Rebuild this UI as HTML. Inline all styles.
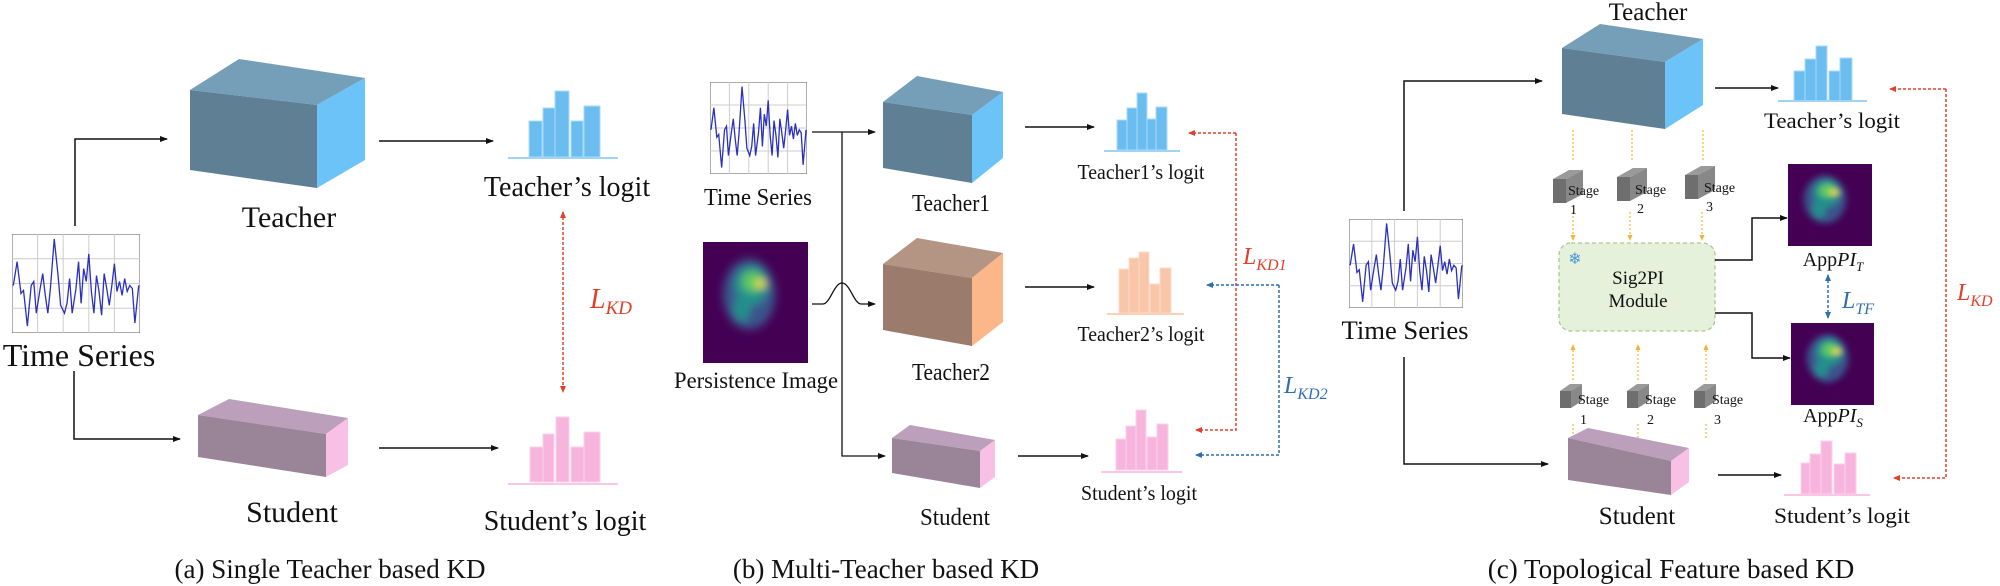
<!DOCTYPE html>
<html><head><meta charset="utf-8"><style>
html,body{margin:0;padding:0;background:#fff;}
svg{display:block;}
svg text{font-family:"Liberation Serif","Times New Roman",Times,"DejaVu Serif",serif;fill:#111;}
</style></head><body>
<svg width="2000" height="586" viewBox="0 0 2000 586" xmlns="http://www.w3.org/2000/svg" font-family="'Liberation Serif', 'Times New Roman', Times, serif">
<defs>
<marker id="ah" markerWidth="8" markerHeight="6" refX="7" refY="3" orient="auto" markerUnits="userSpaceOnUse"><path d="M0,0 L8,3 L0,6 z" fill="#111"/></marker>
<marker id="ar" markerWidth="7" markerHeight="6" refX="6" refY="3" orient="auto-start-reverse" markerUnits="userSpaceOnUse"><path d="M0,0 L7,3 L0,6 z" fill="#e0402a"/></marker>
<marker id="ab" markerWidth="7" markerHeight="6" refX="6" refY="3" orient="auto-start-reverse" markerUnits="userSpaceOnUse"><path d="M0,0 L7,3 L0,6 z" fill="#2f6fb0"/></marker>
<marker id="ao" markerWidth="6" markerHeight="5" refX="5" refY="2.5" orient="auto" markerUnits="userSpaceOnUse"><path d="M0,0 L6,2.5 L0,5 z" fill="#f5b335"/></marker>
<filter id="bl" x="-50%" y="-50%" width="200%" height="200%"><feGaussianBlur stdDeviation="4"/></filter>
<symbol id="ts" viewBox="0 0 100 100" preserveAspectRatio="none">
<rect x="0" y="0" width="100" height="100" fill="#fff" stroke="#777" stroke-width="1.2" vector-effect="non-scaling-stroke"/>
<g stroke="#ccc" stroke-width="1">
<line x1="20" y1="0" x2="20" y2="100" vector-effect="non-scaling-stroke"/><line x1="40" y1="0" x2="40" y2="100" vector-effect="non-scaling-stroke"/><line x1="60" y1="0" x2="60" y2="100" vector-effect="non-scaling-stroke"/><line x1="80" y1="0" x2="80" y2="100" vector-effect="non-scaling-stroke"/>
<line x1="0" y1="25" x2="100" y2="25" vector-effect="non-scaling-stroke"/><line x1="0" y1="50" x2="100" y2="50" vector-effect="non-scaling-stroke"/><line x1="0" y1="75" x2="100" y2="75" vector-effect="non-scaling-stroke"/>
</g>
<polyline fill="none" stroke="#2a2fc0" stroke-width="1.3" vector-effect="non-scaling-stroke" points="1,52 4,28 7,60 9,57 12,93 15,52 17,48 19,80 22,55 24,40 26,62 28,80 30,55 33,5 36,42 38,72 41,80 43,70 45,45 47,80 50,55 52,28 54,70 56,35 58,48 60,20 62,58 64,80 66,42 68,58 70,82 72,40 74,55 76,72 78,52 80,30 82,58 84,48 86,62 88,45 90,58 92,52 94,55 96,90 99,52"/>
</symbol>
<symbol id="pi" viewBox="0 0 100 116" preserveAspectRatio="none">
<rect width="100" height="116" fill="#440154"/>
<g filter="url(#bl)">
<ellipse cx="44" cy="50" rx="25" ry="34" fill="#3b528b"/>
<ellipse cx="46" cy="42" rx="16" ry="19" fill="#21918c"/>
<ellipse cx="37" cy="64" rx="8" ry="12" fill="#21918c"/>
<ellipse cx="47" cy="38" rx="10" ry="10" fill="#5ec962"/>
<ellipse cx="55" cy="40" rx="5" ry="4" fill="#fde725"/>
</g>
</symbol>
</defs>

<use href="#ts" x="12" y="234" width="128" height="99"/>
<text x="79" y="366" font-size="32" text-anchor="middle">Time Series</text>
<polyline points="75,226 75,139 167,139" fill="none" stroke="#111" stroke-width="1.5" marker-end="url(#ah)"/>
<polyline points="74,371 74,439 180,439" fill="none" stroke="#111" stroke-width="1.5" marker-end="url(#ah)"/>
<polygon points="190,90 239,59 365,78 317,105" fill="#759fb8"/>
<polygon points="190,90 317,105 317,188 190,170" fill="#5f7f94"/>
<polygon points="317,105 365,78 365,160 317,188" fill="#6cc3f7"/>
<text x="289" y="227" font-size="30" text-anchor="middle">Teacher</text>
<polygon points="198,415 229,399 348,418 326,434" fill="#bb9fbb"/>
<polygon points="198,415 326,434 326,477 198,457" fill="#9a8498"/>
<polygon points="326,434 348,418 348,465 326,477" fill="#f9c0e6"/>
<text x="292" y="522" font-size="30" text-anchor="middle">Student</text>
<line x1="379" y1="141" x2="493" y2="141" stroke="#111" stroke-width="1.5" marker-end="url(#ah)"/>
<line x1="379" y1="448" x2="498" y2="448" stroke="#111" stroke-width="1.5" marker-end="url(#ah)"/>
<g fill="#6bbdf0" stroke="#a8dcfa" stroke-width="1">
<rect x="529" y="121" width="13" height="36"/><rect x="543" y="108" width="12" height="49"/><rect x="555" y="91" width="14" height="66"/><rect x="571" y="121" width="12" height="36"/><rect x="584" y="106" width="16" height="51"/>
</g>
<line x1="508" y1="158" x2="618" y2="158" stroke="#9fd4f5" stroke-width="2"/>
<text x="567" y="196" font-size="28" text-anchor="middle">Teacher’s logit</text>
<g fill="#f7b4dd" stroke="#fbd3ec" stroke-width="1">
<rect x="530" y="447" width="13" height="35"/><rect x="543" y="434" width="11" height="48"/><rect x="556" y="417" width="13" height="65"/><rect x="571" y="447" width="13" height="35"/><rect x="584" y="432" width="16" height="50"/>
</g>
<line x1="508" y1="484" x2="618" y2="484" stroke="#fbc6e6" stroke-width="2"/>
<text x="565" y="530" font-size="28" text-anchor="middle">Student’s logit</text>
<line x1="563" y1="212" x2="563" y2="392" stroke="#e0402a" stroke-width="1.5" stroke-dasharray="3,2" marker-start="url(#ar)" marker-end="url(#ar)"/>
<text x="590" y="308" font-size="28" font-style="italic" style="fill:#e0402a">L<tspan font-size="19" dy="6">KD</tspan></text>
<text x="330" y="578" font-size="27" text-anchor="middle">(a) Single Teacher based KD</text>

<use href="#ts" x="710" y="82" width="97" height="92"/>
<text x="758" y="205" font-size="24" text-anchor="middle" textLength="108" lengthAdjust="spacingAndGlyphs">Time Series</text>
<use href="#pi" x="703" y="242" width="105" height="121"/>
<text x="756" y="388" font-size="23" text-anchor="middle" textLength="164" lengthAdjust="spacingAndGlyphs">Persistence Image</text>
<line x1="812" y1="132" x2="875" y2="132" stroke="#111" stroke-width="1.3" marker-end="url(#ah)"/>
<polyline points="842,132 842,456 885,456" fill="none" stroke="#111" stroke-width="1.3" marker-end="url(#ah)"/>
<path d="M812,304 L823,304 C830,304 834,283 842,283 C850,283 854,304 861,304 L875,304" fill="none" stroke="#111" stroke-width="1.3" marker-end="url(#ah)"/>
<polygon points="883,102 917,76 1003,92 972,115" fill="#759fb8"/>
<polygon points="883,102 972,115 972,183 883,168" fill="#5f7f94"/>
<polygon points="972,115 1003,92 1003,158 972,183" fill="#6cc3f7"/>
<text x="951" y="211" font-size="24" text-anchor="middle" textLength="78" lengthAdjust="spacingAndGlyphs">Teacher1</text>
<polygon points="883,264 917,238 1003,253 972,278" fill="#b49583"/>
<polygon points="883,264 972,278 972,346 883,330" fill="#9a7b6c"/>
<polygon points="972,278 1003,253 1003,322 972,346" fill="#fbb78a"/>
<text x="951" y="380" font-size="24" text-anchor="middle" textLength="78" lengthAdjust="spacingAndGlyphs">Teacher2</text>
<polygon points="892,438 910,425 995,440 980,451" fill="#bb9fbb"/>
<polygon points="892,438 980,451 980,488 892,473" fill="#9a8498"/>
<polygon points="980,451 995,440 995,477 980,488" fill="#f9c0e6"/>
<text x="955" y="525" font-size="24" text-anchor="middle" textLength="70" lengthAdjust="spacingAndGlyphs">Student</text>
<line x1="1025" y1="127" x2="1094" y2="127" stroke="#111" stroke-width="1.5" marker-end="url(#ah)"/>
<line x1="1025" y1="287" x2="1094" y2="287" stroke="#111" stroke-width="1.5" marker-end="url(#ah)"/>
<line x1="1018" y1="456" x2="1088" y2="456" stroke="#111" stroke-width="1.5" marker-end="url(#ah)"/>
<g fill="#6bbdf0" stroke="#a8dcfa" stroke-width="1">
<rect x="1117" y="120" width="10" height="30"/><rect x="1127" y="108" width="10" height="42"/><rect x="1137" y="93" width="10" height="57"/><rect x="1147" y="119" width="9" height="31"/><rect x="1156" y="107" width="11" height="43"/>
</g>
<line x1="1104" y1="151" x2="1180" y2="151" stroke="#9fd4f5" stroke-width="2"/>
<text x="1141" y="179" font-size="21" text-anchor="middle" textLength="127" lengthAdjust="spacingAndGlyphs">Teacher1’s logit</text>
<g fill="#f9c6aa" stroke="#fcdcc8" stroke-width="1">
<rect x="1119" y="269" width="10" height="44"/><rect x="1129" y="258" width="10" height="55"/><rect x="1139" y="252" width="10" height="61"/><rect x="1150" y="284" width="10" height="29"/><rect x="1160" y="268" width="11" height="45"/>
</g>
<line x1="1107" y1="314" x2="1184" y2="314" stroke="#fbd0b6" stroke-width="2"/>
<text x="1141" y="341" font-size="21" text-anchor="middle" textLength="127" lengthAdjust="spacingAndGlyphs">Teacher2’s logit</text>
<g fill="#f7b4dd" stroke="#fbd3ec" stroke-width="1">
<rect x="1116" y="439" width="10" height="31"/><rect x="1126" y="426" width="10" height="44"/><rect x="1136" y="410" width="10" height="60"/><rect x="1147" y="437" width="10" height="33"/><rect x="1157" y="424" width="11" height="46"/>
</g>
<line x1="1101" y1="472" x2="1182" y2="472" stroke="#fbc6e6" stroke-width="2"/>
<text x="1139" y="500" font-size="21" text-anchor="middle" textLength="116" lengthAdjust="spacingAndGlyphs">Student’s logit</text>
<polyline points="1236,133 1236,430 1196,430" fill="none" stroke="#e0402a" stroke-width="1.5" stroke-dasharray="3,2" marker-end="url(#ar)"/>
<line x1="1236" y1="133" x2="1189" y2="133" stroke="#e0402a" stroke-width="1.5" stroke-dasharray="3,2" marker-end="url(#ar)"/>
<polyline points="1279,285 1279,455 1196,455" fill="none" stroke="#2f6fb0" stroke-width="1.5" stroke-dasharray="3,2" marker-end="url(#ab)"/>
<line x1="1279" y1="285" x2="1207" y2="285" stroke="#2f6fb0" stroke-width="1.5" stroke-dasharray="3,2" marker-end="url(#ab)"/>
<text x="1243" y="264" font-size="24" font-style="italic" style="fill:#e0402a">L<tspan font-size="16" dy="6">KD1</tspan></text>
<text x="1284" y="393" font-size="24" font-style="italic" style="fill:#2f6fb0">L<tspan font-size="16" dy="6">KD2</tspan></text>
<text x="886" y="578" font-size="27" text-anchor="middle">(b) Multi-Teacher based KD</text>

<use href="#ts" x="1349" y="219" width="114" height="89"/>
<text x="1405" y="339" font-size="26" text-anchor="middle" textLength="127" lengthAdjust="spacingAndGlyphs">Time Series</text>
<polyline points="1404,211 1404,81 1542,81" fill="none" stroke="#111" stroke-width="1.5" marker-end="url(#ah)"/>
<polyline points="1404,357 1404,464 1548,464" fill="none" stroke="#111" stroke-width="1.5" marker-end="url(#ah)"/>
<polygon points="1562,48 1600,24 1703,39 1665,62" fill="#759fb8"/>
<polygon points="1562,48 1665,62 1665,129 1562,114" fill="#5f7f94"/>
<polygon points="1665,62 1703,39 1703,105 1665,129" fill="#6cc3f7"/>
<text x="1648" y="20" font-size="25" text-anchor="middle">Teacher</text>
<line x1="1715" y1="88" x2="1778" y2="88" stroke="#111" stroke-width="1.5" marker-end="url(#ah)"/>
<g fill="#6bbdf0" stroke="#a8dcfa" stroke-width="1">
<rect x="1794" y="71" width="11" height="30"/><rect x="1805" y="59" width="11" height="42"/><rect x="1816" y="46" width="11" height="55"/><rect x="1829" y="71" width="11" height="30"/><rect x="1840" y="58" width="12" height="43"/>
</g>
<line x1="1778" y1="101" x2="1867" y2="101" stroke="#9fd4f5" stroke-width="2"/>
<text x="1832" y="128" font-size="22" text-anchor="middle" textLength="136" lengthAdjust="spacingAndGlyphs">Teacher’s logit</text>
<g stroke="#f5b335" stroke-width="1.2" stroke-dasharray="2,2" fill="none">
<line x1="1573" y1="130" x2="1573" y2="162"/><line x1="1632" y1="130" x2="1632" y2="162"/><line x1="1703" y1="130" x2="1703" y2="162"/>
<line x1="1573" y1="212" x2="1573" y2="240" marker-end="url(#ao)"/><line x1="1630" y1="212" x2="1630" y2="240" marker-end="url(#ao)"/><line x1="1702" y1="212" x2="1702" y2="240" marker-end="url(#ao)"/>
<line x1="1573" y1="380" x2="1573" y2="345" marker-end="url(#ao)"/><line x1="1638" y1="380" x2="1638" y2="345" marker-end="url(#ao)"/><line x1="1706" y1="380" x2="1706" y2="345" marker-end="url(#ao)"/>
<line x1="1573" y1="424" x2="1573" y2="440"/><line x1="1638" y1="424" x2="1638" y2="440"/><line x1="1706" y1="424" x2="1706" y2="440"/>
</g>
<g transform="translate(1553,170)"><polygon points="0,9 16,0 30,0 13,9" fill="#9a9a9a"/><polygon points="0,9 13,9 13,33 0,33" fill="#6e6e6e"/><polygon points="13,9 30,0 30,24 13,33" fill="#888"/></g>
<g transform="translate(1617,168)"><polygon points="0,9 16,0 30,0 13,9" fill="#9a9a9a"/><polygon points="0,9 13,9 13,33 0,33" fill="#6e6e6e"/><polygon points="13,9 30,0 30,24 13,33" fill="#888"/></g>
<g transform="translate(1685,166)"><polygon points="0,9 16,0 30,0 13,9" fill="#9a9a9a"/><polygon points="0,9 13,9 13,33 0,33" fill="#6e6e6e"/><polygon points="13,9 30,0 30,24 13,33" fill="#888"/></g>
<g transform="translate(1560,384)"><polygon points="0,7 10,0 22,0 11,7" fill="#9a9a9a"/><polygon points="0,7 11,7 11,24 0,24" fill="#6e6e6e"/><polygon points="11,7 22,0 22,17 11,24" fill="#888"/></g>
<g transform="translate(1627,384)"><polygon points="0,7 10,0 22,0 11,7" fill="#9a9a9a"/><polygon points="0,7 11,7 11,24 0,24" fill="#6e6e6e"/><polygon points="11,7 22,0 22,17 11,24" fill="#888"/></g>
<g transform="translate(1694,384)"><polygon points="0,7 10,0 22,0 11,7" fill="#9a9a9a"/><polygon points="0,7 11,7 11,24 0,24" fill="#6e6e6e"/><polygon points="11,7 22,0 22,17 11,24" fill="#888"/></g>
<g font-size="14">
<text x="1568" y="195">Stage</text><text x="1570" y="214">1</text>
<text x="1635" y="194">Stage</text><text x="1637" y="213">2</text>
<text x="1704" y="192">Stage</text><text x="1706" y="211">3</text>
<text x="1578" y="404">Stage</text><text x="1580" y="424">1</text>
<text x="1645" y="404">Stage</text><text x="1647" y="424">2</text>
<text x="1712" y="404">Stage</text><text x="1714" y="424">3</text>
</g>
<rect x="1559" y="243" width="156" height="88" rx="12" fill="#e6f1dc" stroke="#a8c98f" stroke-width="1.3" stroke-dasharray="4,3"/>
<text x="1575" y="264" font-size="16" text-anchor="middle" style="fill:#4a9ad8;font-family:'DejaVu Sans',sans-serif">❄</text>
<text x="1638" y="284" font-size="19" text-anchor="middle">Sig2PI</text>
<text x="1638" y="307" font-size="19" text-anchor="middle">Module</text>
<polyline points="1715,260 1752,260 1752,218 1787,218" fill="none" stroke="#111" stroke-width="1.5" marker-end="url(#ah)"/>
<polyline points="1715,313 1752,313 1752,358 1790,358" fill="none" stroke="#111" stroke-width="1.5" marker-end="url(#ah)"/>
<use href="#pi" x="1788" y="164" width="84" height="82"/>
<use href="#pi" x="1791" y="323" width="83" height="82"/>
<text x="1833" y="266" font-size="20" text-anchor="middle">App<tspan font-style="italic">PI</tspan><tspan font-style="italic" font-size="13" dy="5">T</tspan></text>
<text x="1833" y="422" font-size="20" text-anchor="middle">App<tspan font-style="italic">PI</tspan><tspan font-style="italic" font-size="13" dy="5">S</tspan></text>
<line x1="1828" y1="275" x2="1828" y2="318" stroke="#2f6fb0" stroke-width="1.5" stroke-dasharray="3,2" marker-start="url(#ab)" marker-end="url(#ab)"/>
<text x="1842" y="308" font-size="24" font-style="italic" style="fill:#2f6fb0">L<tspan font-size="16" dy="6">TF</tspan></text>
<polygon points="1568,438 1588,428 1689,448 1671,461" fill="#bb9fbb"/>
<polygon points="1568,438 1671,461 1671,495 1568,480" fill="#9a8498"/>
<polygon points="1671,461 1689,448 1689,482 1671,495" fill="#f9c0e6"/>
<text x="1637" y="524" font-size="25" text-anchor="middle">Student</text>
<line x1="1718" y1="475" x2="1781" y2="475" stroke="#111" stroke-width="1.5" marker-end="url(#ah)"/>
<g fill="#f7b4dd" stroke="#fbd3ec" stroke-width="1">
<rect x="1801" y="463" width="9" height="31"/><rect x="1810" y="454" width="11" height="40"/><rect x="1821" y="441" width="11" height="53"/><rect x="1834" y="464" width="11" height="30"/><rect x="1845" y="453" width="11" height="41"/>
</g>
<line x1="1784" y1="495" x2="1870" y2="495" stroke="#fbc6e6" stroke-width="2"/>
<text x="1842" y="523" font-size="22" text-anchor="middle" textLength="136" lengthAdjust="spacingAndGlyphs">Student’s logit</text>
<polyline points="1946,89 1946,478 1894,478" fill="none" stroke="#e0402a" stroke-width="1.5" stroke-dasharray="3,2" marker-end="url(#ar)"/>
<line x1="1946" y1="89" x2="1890" y2="89" stroke="#e0402a" stroke-width="1.5" stroke-dasharray="3,2" marker-end="url(#ar)"/>
<text x="1957" y="300" font-size="24" font-style="italic" style="fill:#e0402a">L<tspan font-size="16" dy="6">KD</tspan></text>
<text x="1671" y="578" font-size="27" text-anchor="middle">(c) Topological Feature based KD</text>
</svg>
</body></html>
